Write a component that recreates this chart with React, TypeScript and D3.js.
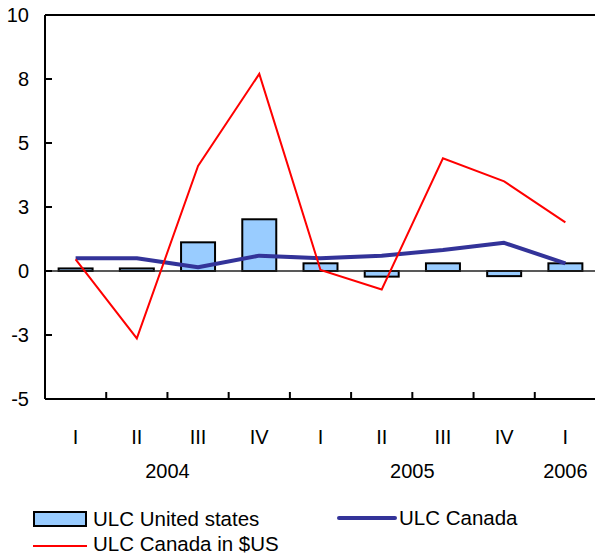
import React from "react";
import * as d3 from "d3";

const quarters = ["I", "II", "III", "IV", "I", "II", "III", "IV", "I"];
const years = ["2004", "2005", "2006"];
const yearSpans = [[0, 3], [4, 7], [8, 8]];
const ulcUS = [0.1, 0.1, 1.12, 2.02, 0.3, -0.22, 0.3, -0.2, 0.3];
const ulcCanada = [0.5, 0.5, 0.15, 0.6, 0.5, 0.6, 0.82, 1.1, 0.3];
const ulcCanadaUSD = [0.45, -2.63, 4.1, 7.7, 0.04, -0.72, 4.4, 3.5, 1.9];
const yTickValues = [-5, -2.5, 0, 2.5, 5, 7.5, 10];
const yTickLabels = ["-5", "-3", "0", "3", "5", "8", "10"];

const W = 595;
const H = 554;
const left = 45;
const right = 596;
const top = 15;
const bottom = 399;
const font = "'Liberation Sans', Arial, sans-serif";
const fs = 20;
const lfs = 20.5;

export default function App() {
  const idx = quarters.map((_, i) => i);
  const x = d3
    .scaleBand<number>()
    .domain(idx)
    .range([left, right])
    .paddingInner(0.445)
    .paddingOuter(0.2225);
  const y = d3.scaleLinear().domain([-5, 10]).range([bottom, top]);
  const step = x.step();
  const cx = (i: number) => (x(i) as number) + x.bandwidth() / 2;
  const line = d3
    .line<number>()
    .x((_, i) => cx(i))
    .y((d) => y(d));

  return (
    <svg
      width={W}
      height={H}
      style={{ position: "absolute", left: 0, top: 0, background: "#fff" }}
      fontFamily={font}
    >
      {ulcUS.map((v, i) => (
        <rect
          key={"b" + i}
          x={x(i)}
          y={Math.min(y(v), y(0))}
          width={x.bandwidth()}
          height={Math.abs(y(v) - y(0))}
          fill="#99CCFF"
          stroke="#000"
          strokeWidth={2}
        />
      ))}
      <line x1={left} x2={right} y1={y(0)} y2={y(0)} stroke="#222" strokeWidth={1.5} />
      <path d={line(ulcCanada) || ""} fill="none" stroke="#333399" strokeWidth={4} strokeLinejoin="round" />
      <path d={line(ulcCanadaUSD) || ""} fill="none" stroke="#FF0000" strokeWidth={2} />
      <line x1={left} x2={right} y1={top} y2={top} stroke="#000" strokeWidth={2} />
      <line x1={left} x2={left} y1={top} y2={bottom} stroke="#000" strokeWidth={2} />
      <line x1={left} x2={right} y1={bottom} y2={bottom} stroke="#000" strokeWidth={2} />
      {yTickValues.map((v, i) => (
        <g key={"yt" + i}>
          <line x1={left} x2={left + 7} y1={y(v)} y2={y(v)} stroke="#000" strokeWidth={2} />
          <text x={29} y={y(v)} dy="0.35em" textAnchor="end" fontSize={fs} fill="#000">
            {yTickLabels[i]}
          </text>
        </g>
      ))}
      {idx.slice(1).map((i) => (
        <line
          key={"xt" + i}
          x1={left + step * i}
          x2={left + step * i}
          y1={bottom}
          y2={bottom - 7}
          stroke="#000"
          strokeWidth={2}
        />
      ))}
      {quarters.map((q, i) => (
        <text key={"q" + i} x={cx(i)} y={444} textAnchor="middle" fontSize={fs} fill="#000">
          {q}
        </text>
      ))}
      {years.map((yr, i) => (
        <text
          key={"y" + i}
          x={(cx(yearSpans[i][0]) + cx(yearSpans[i][1])) / 2}
          y={478}
          textAnchor="middle"
          fontSize={fs}
          fill="#000"
        >
          {yr}
        </text>
      ))}
      <rect x={34} y={512} width={52} height={14} fill="#99CCFF" stroke="#000" strokeWidth={2} />
      <text x={93} y={519} dy="0.35em" fontSize={lfs} fill="#000">ULC United states</text>
      <line x1={339} x2={395} y1={518} y2={518} stroke="#333399" strokeWidth={4} strokeLinecap="round" />
      <text x={399} y={518} dy="0.35em" fontSize={lfs} fill="#000">ULC Canada</text>
      <line x1={33} x2={87} y1={546} y2={546} stroke="#FF0000" strokeWidth={2} />
      <text x={93} y={544} dy="0.35em" fontSize={lfs} fill="#000">ULC Canada in $US</text>
    </svg>
  );
}
